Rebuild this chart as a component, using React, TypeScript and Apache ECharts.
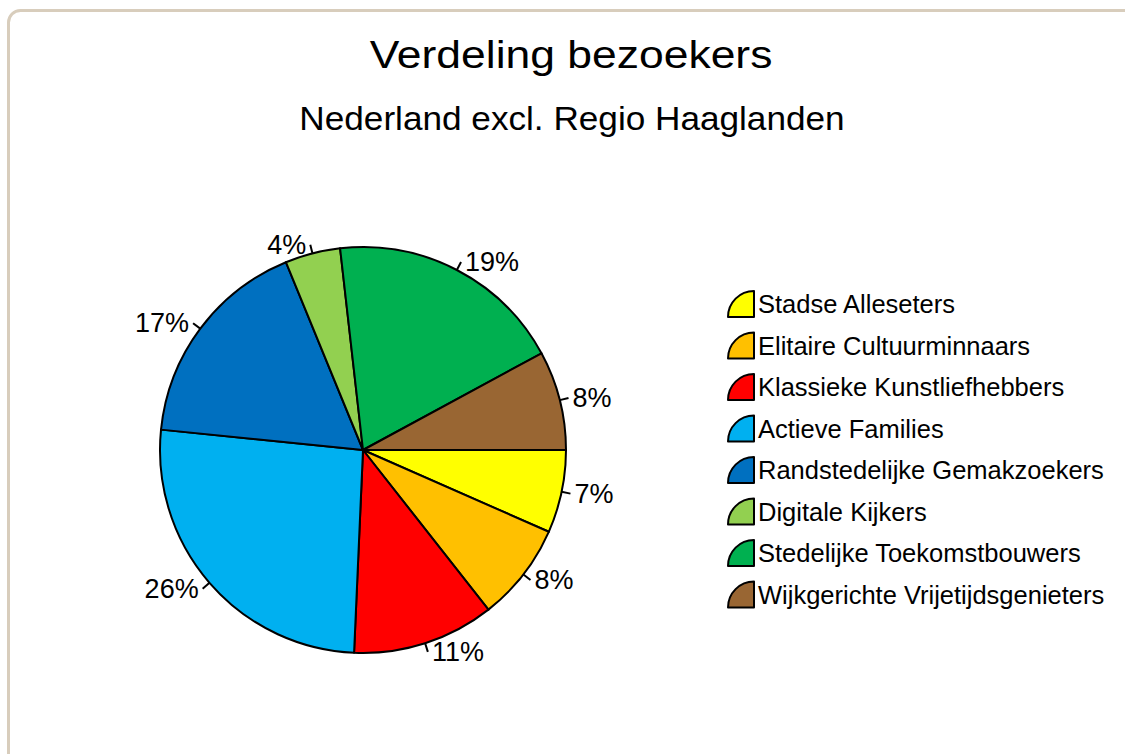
import React, { useEffect, useRef } from "react";
import * as echarts from "echarts";

const categories = [
  "Stadse Alleseters",
  "Elitaire Cultuurminnaars",
  "Klassieke Kunstliefhebbers",
  "Actieve Families",
  "Randstedelijke Gemakzoekers",
  "Digitale Kijkers",
  "Stedelijke Toekomstbouwers",
  "Wijkgerichte Vrijetijdsgenieters",
];
const values = [6.6, 7.8, 11.3, 25.9, 17.2, 4.4, 18.9, 7.9];
const colors = ["#FFFF00", "#FFC000", "#FF0000", "#00B0F0", "#0070C0", "#92D050", "#00B050", "#996633"];

const titleText = "Verdeling bezoekers";
const subtitleText = "Nederland excl. Regio Haaglanden";

const FONT = "'Liberation Sans', Arial, sans-serif";

export default function App() {
  const ref = useRef<HTMLDivElement>(null);
  useEffect(() => {
    if (!ref.current) return;
    const chart = echarts.init(ref.current, undefined, { renderer: "svg" });
    chart.setOption({
      animation: false,
      backgroundColor: "#ffffff",
      graphic: [
        {
          type: "rect",
          z: -10,
          shape: { x: 8.5, y: 10.5, width: 1200, height: 800, r: 12 },
          style: { fill: "#ffffff", stroke: "#d8cdbc", lineWidth: 3 },
          silent: true,
        },
        {
          type: "text",
          x: 571,
          y: 55,
          scaleX: 1.17,
          style: {
            text: titleText,
            font: `normal 38px ${FONT}`,
            fill: "#000",
            textAlign: "center",
            textVerticalAlign: "middle",
          },
        },
        {
          type: "text",
          x: 572,
          y: 118,
          scaleX: 1.05,
          style: {
            text: subtitleText,
            font: `normal 33.5px ${FONT}`,
            fill: "#000",
            textAlign: "center",
            textVerticalAlign: "middle",
          },
        },
      ],
      legend: {
        orient: "vertical",
        left: 722,
        top: 285,
        itemWidth: 26,
        itemHeight: 26,
        itemGap: 13.5,
        icon: "path://M10,10 L10,0 A10,10 0 0 0 0,10 Z",
        textStyle: { fontFamily: FONT, fontSize: 25.5, color: "#000", padding: [0, 0, 0, -1] },
        data: categories,
      },
      series: [
        {
          type: "pie",
          center: [363, 450],
          radius: 203,
          startAngle: 0,
          clockwise: true,
          percentPrecision: 0,
          avoidLabelOverlap: false,
          data: categories.map((name, i) => ({
            name,
            value: values[i],
            itemStyle: { color: colors[i] },
          })),
          itemStyle: { borderColor: "#000", borderWidth: 2 },
          label: {
            show: true,
            position: "outside",
            formatter: "{d}%",
            fontFamily: FONT,
            fontSize: 27,
            color: "#000",
            distanceToLabelLine: 4,
          },
          labelLine: {
            show: true,
            length: 9,
            length2: 0,
            lineStyle: { color: "#000", width: 2 },
          },
        },
      ],
    });
    return () => chart.dispose();
  }, []);
  return (
    <div
      ref={ref}
      style={{ position: "absolute", left: 0, top: 0, width: 1125, height: 754 }}
    />
  );
}
